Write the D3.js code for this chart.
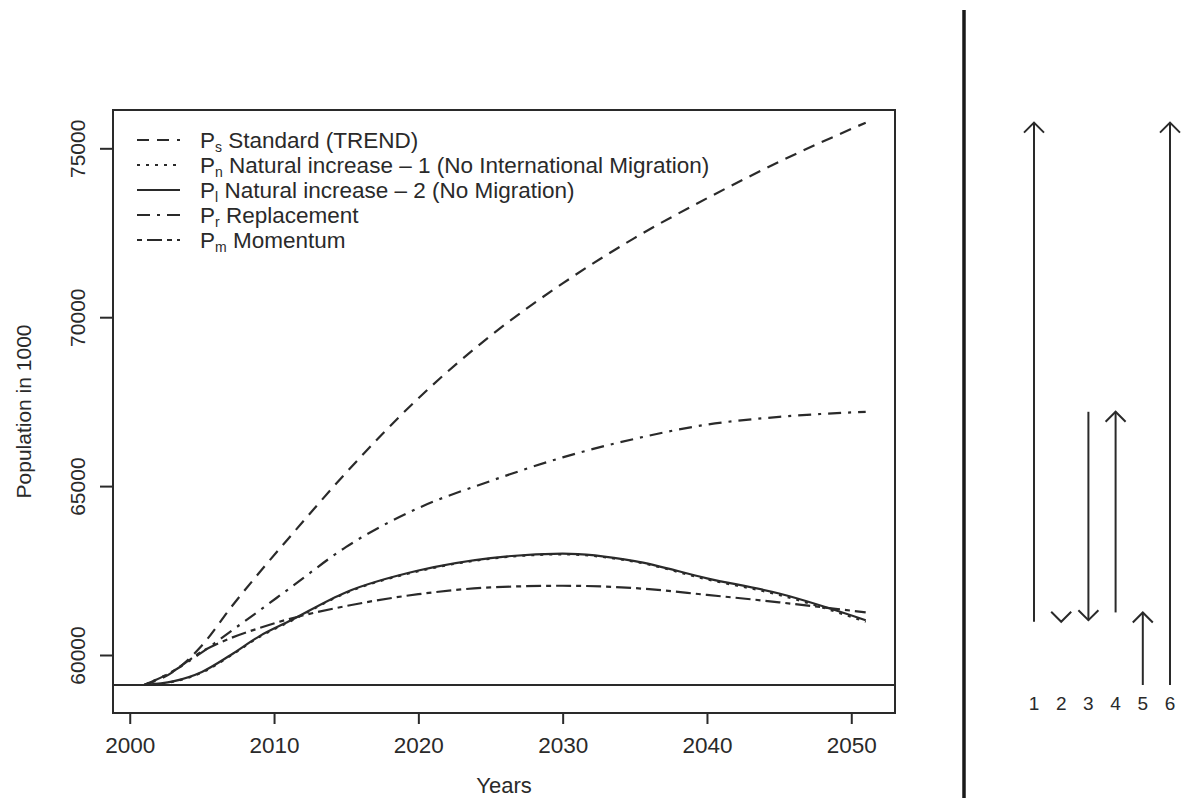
<!DOCTYPE html>
<html>
<head>
<meta charset="utf-8">
<script src="https://cdn.jsdelivr.net/npm/d3@7"></script>
<style>
  html, body { margin: 0; padding: 0; background: #fff; }
  svg { display: block; font-family: "Liberation Sans", Arial, Helvetica, sans-serif; }
</style>
</head>
<body>
<svg id="chart" width="1185" height="798"></svg>
<script>
// Projection years (population in thousands)
const years = [2001, 2003, 2005, 2007, 2009, 2011, 2015, 2020, 2025, 2030, 2035, 2040, 2045, 2051];
const standardTrend   = [59112, 59500, 60280, 61400, 62450, 63450, 65400, 67600, 69450, 71000, 72350, 73520, 74600, 75760];
const naturalInc1     = [59112, 59210, 59480, 59980, 60540, 60970, 61840, 62480, 62850, 62980, 62760, 62240, 61780, 60985];
const naturalInc2     = [59112, 59220, 59500, 60000, 60560, 60990, 61860, 62500, 62870, 63000, 62780, 62270, 61820, 61030];
const replacementVals = [59112, 59520, 60080, 60700, 61320, 61950, 63200, 64350, 65150, 65850, 66400, 66820, 67050, 67200];
const momentumVals    = [59112, 59520, 60100, 60500, 60800, 61060, 61450, 61800, 62000, 62050, 61980, 61780, 61560, 61260];
const basePopulation = 59112;

const xTicks = [2000, 2010, 2020, 2030, 2040, 2050];
const yTicks = [60000, 65000, 70000, 75000];

// Decomposition steps shown on the right: [from, to]
const stepLabels = ["1", "2", "3", "4", "5", "6"];
const stepPairs = [["n", "s"], ["l", "n"], ["r", "l"], ["m", "r"], ["base", "m"], ["base", "s"]];

const series = [
  { key: "s", sub: "s", label: "Standard (TREND)", values: standardTrend, dash: "12,8" },
  { key: "n", sub: "n", label: "Natural increase \u2013 1 (No International Migration)", values: naturalInc1, dash: "3,6" },
  { key: "l", sub: "l", label: "Natural increase \u2013 2 (No Migration)", values: naturalInc2, dash: null },
  { key: "r", sub: "r", label: "Replacement", values: replacementVals, dash: "13,7,3,7" },
  { key: "m", sub: "m", label: "Momentum", values: momentumVals, dash: "5,5,15,5" }
];

const ink = "#2a2a2a";
const svg = d3.select("#chart");

const plot = { left: 113, right: 895, top: 110, bottom: 713 };
const x = d3.scaleLinear().domain([1998.84, 2053.03]).range([plot.left, plot.right]);
const y = d3.scaleLinear().domain([58283, 76134]).range([plot.bottom, plot.top]);

// Axes
const xAxis = d3.axisBottom(x).tickValues(xTicks).tickFormat(d3.format("d")).tickSize(11).tickPadding(13);
const gx = svg.append("g").attr("transform", `translate(0,${plot.bottom})`).call(xAxis);
gx.select(".domain").remove();
gx.selectAll("line").attr("stroke", ink).attr("stroke-width", 2);
gx.selectAll("text").attr("fill", ink).attr("font-size", 22.5).attr("font-family", null);

const yAxis = d3.axisLeft(y).tickValues(yTicks).tickFormat(d3.format("d")).tickSize(13).tickPadding(0);
const gy = svg.append("g").attr("transform", `translate(${plot.left},0)`).call(yAxis);
gy.select(".domain").remove();
gy.selectAll("line").attr("stroke", ink).attr("stroke-width", 2);
gy.selectAll("text")
  .attr("fill", ink).attr("font-size", 21).attr("font-family", null)
  .attr("x", null).attr("dy", null)
  .attr("text-anchor", "middle")
  .attr("transform", "translate(-36,0) rotate(-90)")
  .attr("y", 0).attr("dominant-baseline", "central");

// Axis titles
svg.append("text")
  .attr("x", (plot.left + plot.right) / 2).attr("y", 793)
  .attr("text-anchor", "middle").attr("font-size", 22).attr("fill", ink)
  .text("Years");
svg.append("text")
  .attr("transform", `translate(23,${(plot.top + plot.bottom) / 2}) rotate(-90)`)
  .attr("text-anchor", "middle").attr("dominant-baseline", "central")
  .attr("font-size", 21).attr("fill", ink)
  .text("Population in 1000");

// Plot frame
svg.append("rect")
  .attr("x", plot.left).attr("y", plot.top)
  .attr("width", plot.right - plot.left).attr("height", plot.bottom - plot.top)
  .attr("fill", "none").attr("stroke", ink).attr("stroke-width", 2);

// Base population reference line
svg.append("line")
  .attr("x1", plot.left).attr("x2", plot.right)
  .attr("y1", y(basePopulation)).attr("y2", y(basePopulation))
  .attr("stroke", ink).attr("stroke-width", 2);

// Projection curves
const line = d3.line()
  .x((d, i) => x(years[i]))
  .y(d => y(d))
  .curve(d3.curveMonotoneX);

svg.append("g").selectAll("path")
  .data(series)
  .join("path")
  .attr("d", d => line(d.values))
  .attr("fill", "none")
  .attr("stroke", ink)
  .attr("stroke-width", 2.2)
  .attr("stroke-dasharray", d => d.dash);

// Legend
const legend = svg.append("g");
const legendRow = d3.scalePoint().domain(series.map(d => d.key)).range([140, 240]);
const entries = legend.selectAll("g").data(series).join("g")
  .attr("transform", d => `translate(0,${legendRow(d.key)})`);
entries.append("line")
  .attr("x1", 137).attr("x2", 180).attr("y1", 0).attr("y2", 0)
  .attr("stroke", ink).attr("stroke-width", 2)
  .attr("stroke-dasharray", d => d.dash);
const lt = entries.append("text")
  .attr("x", 200).attr("y", 8).attr("font-size", 22.5).attr("fill", ink);
lt.append("tspan").text("P");
lt.append("tspan").attr("font-size", 14).attr("dy", 4).text(d => d.sub);
lt.append("tspan").attr("dy", -4).text(d => " " + d.label);

// Right-hand panel: separator and decomposition arrows
svg.append("line")
  .attr("x1", 964).attr("x2", 964).attr("y1", 10).attr("y2", 798)
  .attr("stroke", "#1a1a1a").attr("stroke-width", 3.5);

const endValue = k => k === "base" ? basePopulation : series.find(s => s.key === k).values[years.length - 1];
const ax = d3.scalePoint().domain(stepLabels).range([1034, 1170]);

const arrows = svg.append("g").selectAll("g")
  .data(stepPairs.map((p, i) => ({ label: stepLabels[i], from: endValue(p[0]), to: endValue(p[1]) })))
  .join("g");
arrows.append("line")
  .attr("x1", d => ax(d.label)).attr("x2", d => ax(d.label))
  .attr("y1", d => y(d.from)).attr("y2", d => y(d.to))
  .attr("stroke", ink).attr("stroke-width", 2);
arrows.append("polyline")
  .attr("points", d => {
    const cx = ax(d.label), ty = y(d.to);
    const dir = d.to >= d.from ? 1 : -1; // 1 = pointing up
    return [[cx - 10, ty + dir * 10], [cx, ty], [cx + 10, ty + dir * 10]].map(p => p.join(",")).join(" ");
  })
  .attr("fill", "none").attr("stroke", ink).attr("stroke-width", 2);
arrows.append("text")
  .attr("x", d => ax(d.label)).attr("y", 710)
  .attr("text-anchor", "middle").attr("font-size", 19).attr("fill", ink)
  .text(d => d.label);
</script>
</body>
</html>
